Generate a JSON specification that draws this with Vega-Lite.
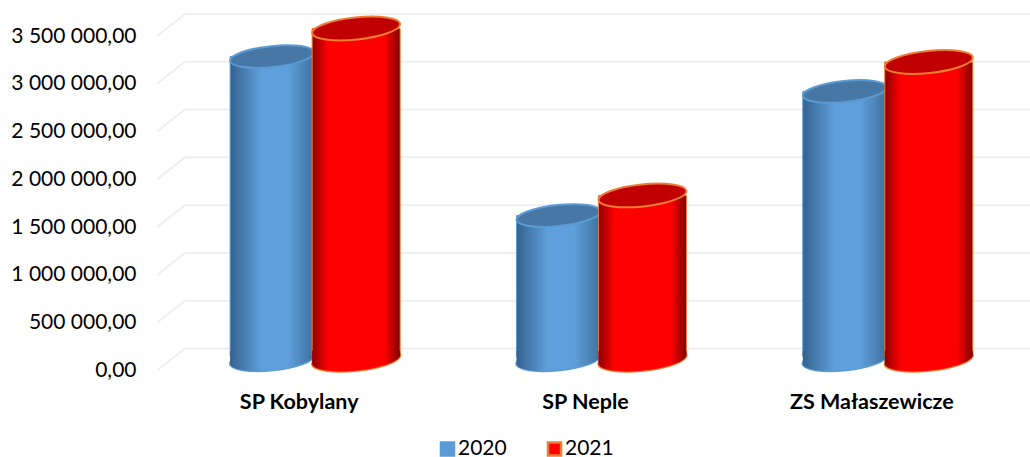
{
"$schema":"https://vega.github.io/schema/vega-lite/v6.json",
"width":873,"height":334.5,
"autosize":"none",
"padding":{"left":157,"top":36,"right":0,"bottom":86.5},
"background":"#ffffff",
"datasets":{
"cyl":[
{"school":"SP Kobylany","year":"2020","value":3180000},
{"school":"SP Kobylany","year":"2021","value":3474000},
{"school":"SP Neple","year":"2020","value":1517000},
{"school":"SP Neple","year":"2021","value":1727000},
{"school":"ZS Małaszewicze","year":"2020","value":2815000},
{"school":"ZS Małaszewicze","year":"2021","value":3123000}
],
"grid":[{"v":0},{"v":500000},{"v":1000000},{"v":1500000},{"v":2000000},{"v":2500000},{"v":3000000},{"v":3500000}]
},
"config":{"view":{"stroke":null},"font":"Lato"},
"resolve":{"scale":{"x":"independent"}},
"layer":[
{"data":{"name":"grid"},"layer":[
{"mark":{"type":"rule","stroke":"#efefef","strokeWidth":2,"y2Offset":-22},
"encoding":{
"x":{"datum":0,"type":"quantitative","scale":{"domain":[0,873],"range":[0,873],"nice":false,"zero":false},"axis":null},
"x2":{"datum":28},
"y":{"field":"v","type":"quantitative","scale":{"domain":[0,3500000]},
"axis":{"values":[0,500000,1000000,1500000,2000000,2500000,3000000,3500000],"title":null,"domain":false,"ticks":false,"grid":false,"labelPadding":21,"labelFontSize":21,"labelColor":"#000000","labelFont":"Lato","labelExpr":"replace(replace(format(datum.value,',.2f'),/,/g,' '),'.',',')"}},
"y2":{"field":"v"}}},
{"mark":{"type":"rule","stroke":"#efefef","strokeWidth":2,"yOffset":-22},
"encoding":{
"x":{"datum":28,"type":"quantitative","scale":{"domain":[0,873],"range":[0,873],"nice":false,"zero":false},"stack":null},
"x2":{"datum":873},
"y":{"field":"v","type":"quantitative"}}}
]},
{"data":{"name":"cyl"},
"encoding":{
"x":{"field":"school","type":"nominal","sort":null,"scale":{"range":[15,874],"paddingInner":0.406,"paddingOuter":0.203},
"axis":{"orient":"bottom","title":null,"domain":false,"ticks":false,"labelAngle":0,"labelOffset":-16,"labelPadding":21,"labelFontSize":21.5,"labelFontWeight":"bold","labelColor":"#000000","labelFont":"Lato"}},
"xOffset":{"field":"year","type":"nominal","scale":{"range":[0,168]}}
},
"layer":[
{"transform":[{"filter":"datum.year=='2020'"}],"mark":{"type":"point","filled":true,"opacity":1,"yOffset":-11,"size":7056,"strokeWidth":2.5,"shape":"M -1 0.105 A 1.005 0.25 -6 1 1 1 -0.105 A 1.005 0.25 -6 1 1 -1 0.105 Z"},
"encoding":{"y":{"datum":0,"type":"quantitative"},
"color":{"field":"year","type":"nominal","scale":{"domain":["2020","2021"],"range":["#5b9bd5","#ff0000"]},
"legend":{"title":null,"orient":"none","legendX":280,"legendY":402,"direction":"horizontal","symbolType":"square","symbolSize":170,"symbolStrokeWidth":2.5,"labelFontSize":21,"labelColor":"#000000","labelFont":"Lato","labelOffset":0,"columnPadding":35,"encode":{"symbols":{"update":{"shape":{"value":"square"}}}}}},
"stroke":{"field":"year","type":"nominal","scale":{"domain":["2020","2021"],"range":["#5b9bd5","#ed7d31"]},"legend":{"title":null,"orient":"none","legendX":280,"legendY":402,"direction":"horizontal","symbolType":"square","symbolSize":170,"symbolStrokeWidth":2.5,"labelFontSize":21,"labelColor":"#000000","labelFont":"Lato","labelOffset":0,"columnPadding":35,"encode":{"symbols":{"update":{"shape":{"value":"square"}}}}}}}},
{"transform":[{"filter":"datum.year=='2020'"}],"mark":{"type":"bar","yOffset":-10,"y2Offset":-14,"stroke":"#5b9bd5","strokeWidth":1,
"fill":{"gradient":"linear","x1":0,"x2":1,"y1":0,"y2":0,"stops":[{"offset":0,"color":"#35628d"},{"offset":0.38,"color":"#5fa0dc"},{"offset":0.68,"color":"#5fa0dc"},{"offset":1,"color":"#3f6f9b"}]}},
"encoding":{"y":{"field":"value","type":"quantitative"},"y2":{"datum":0}}},
{"transform":[{"filter":"datum.year=='2020'"}],"mark":{"type":"point","filled":true,"opacity":1,"yOffset":-11,"size":7056,"strokeWidth":0,"shape":"M -1 0.105 L -1 -0.2 L 1 -0.2 L 1 -0.105 A 1.005 0.25 -6 0 1 -1 0.105 Z",
"fill":{"gradient":"linear","x1":0,"x2":1,"y1":0,"y2":0,"stops":[{"offset":0,"color":"#35628d"},{"offset":0.38,"color":"#5fa0dc"},{"offset":0.68,"color":"#5fa0dc"},{"offset":1,"color":"#3f6f9b"}]}},
"encoding":{"y":{"datum":0,"type":"quantitative"}}},
{"transform":[{"filter":"datum.year=='2020'"}],"mark":{"type":"point","filled":true,"opacity":1,"yOffset":-10,"size":7056,"fill":"#4777a5","stroke":"#5b9bd5","strokeWidth":2,"shape":"M -1 0.105 A 1.005 0.25 -6 1 1 1 -0.105 A 1.005 0.25 -6 1 1 -1 0.105 Z"},
"encoding":{"y":{"field":"value","type":"quantitative"}}},
{"transform":[{"filter":"datum.year=='2021'"}],"mark":{"type":"point","filled":true,"opacity":1,"yOffset":-11,"size":7744,"strokeWidth":2.5,"shape":"M -1 0.105 A 1.005 0.25 -6 1 1 1 -0.105 A 1.005 0.25 -6 1 1 -1 0.105 Z"},
"encoding":{"y":{"datum":0,"type":"quantitative"},
"color":{"field":"year","type":"nominal"},
"stroke":{"field":"year","type":"nominal"}}},
{"transform":[{"filter":"datum.year=='2021'"}],"mark":{"type":"bar","width":88,"yOffset":-10,"y2Offset":-14,"stroke":"#ed7d31","strokeWidth":1,
"fill":{"gradient":"linear","x1":0,"x2":1,"y1":0,"y2":0,"stops":[{"offset":0,"color":"#8c0000"},{"offset":0.18,"color":"#ff0000"},{"offset":0.82,"color":"#ff0000"},{"offset":1,"color":"#800000"}]}},
"encoding":{"y":{"field":"value","type":"quantitative"},"y2":{"datum":0}}},
{"transform":[{"filter":"datum.year=='2021'"}],"mark":{"type":"point","filled":true,"opacity":1,"yOffset":-11,"size":7744,"strokeWidth":0,"shape":"M -1 0.105 L -1 -0.2 L 1 -0.2 L 1 -0.105 A 1.005 0.25 -6 0 1 -1 0.105 Z",
"fill":{"gradient":"linear","x1":0,"x2":1,"y1":0,"y2":0,"stops":[{"offset":0,"color":"#8c0000"},{"offset":0.18,"color":"#ff0000"},{"offset":0.82,"color":"#ff0000"},{"offset":1,"color":"#800000"}]}},
"encoding":{"y":{"datum":0,"type":"quantitative"}}},
{"transform":[{"filter":"datum.year=='2021'"}],"mark":{"type":"point","filled":true,"opacity":1,"yOffset":-10,"size":7744,"fill":"#c00000","stroke":"#ed7d31","strokeWidth":2,"shape":"M -1 0.105 A 1.005 0.25 -6 1 1 1 -0.105 A 1.005 0.25 -6 1 1 -1 0.105 Z"},
"encoding":{"y":{"field":"value","type":"quantitative"}}}
]}
]
}
